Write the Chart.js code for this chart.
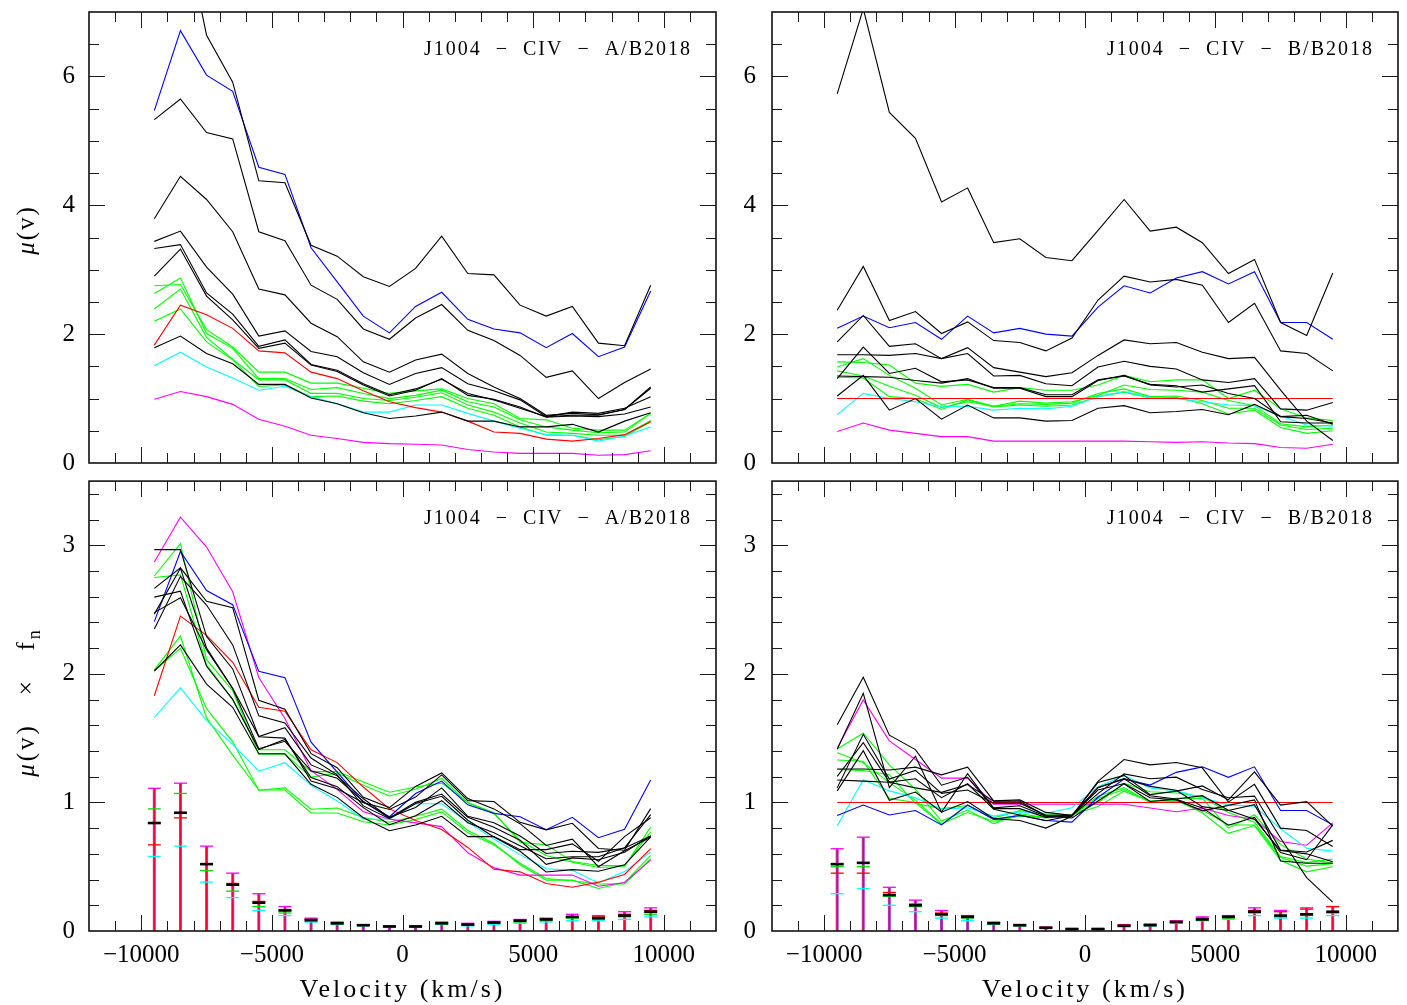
<!DOCTYPE html>
<html>
<head>
<meta charset="utf-8">
<title>J1004 CIV</title>
<script src="https://cdn.jsdelivr.net/npm/chart.js@4.4.1/dist/chart.umd.min.js"></script>
<style>
  html, body { margin: 0; padding: 0; background: #fff; }
  #wrap { position: relative; width: 1407px; height: 1005px; }
  canvas { position: absolute; }
</style>
</head>
<body>
<div id="wrap">
  <canvas id="tl" width="730" height="472" style="left:0;top:0"></canvas>
  <canvas id="tr" width="677" height="472" style="left:730px;top:0"></canvas>
  <canvas id="bl" width="730" height="533" style="left:0;top:472px"></canvas>
  <canvas id="br" width="677" height="533" style="left:730px;top:472px"></canvas>
</div>
<script>
// velocity bins (km/s)
const velocity = [-9500, -8500, -7500, -6500, -5500, -4500, -3500, -2500, -1500, -500,
                  500, 1500, 2500, 3500, 4500, 5500, 6500, 7500, 8500, 9500];
const velocityTicks = [-10000, -5000, 0, 5000, 10000];
const muTicks = [0, 2, 4, 6];
const scaledTicks = [0, 1, 2, 3];

// mu(v), image A over B2018
const aK1 = [8.6, 8.6, 6.64, 5.91, 4.38, 4.35, 3.38, 3.21, 2.89, 2.74, 3.02, 3.52, 2.94, 2.92, 2.45, 2.28, 2.43, 1.86, 1.82, 2.76];
const aK2 = [5.33, 5.65, 5.13, 5.03, 3.59, 3.45, 2.76, 2.54, 2.08, 1.92, 2.25, 2.46, 2.06, 1.90, 1.67, 1.33, 1.43, 1.00, 1.25, 1.46];
const aK3 = [3.79, 4.45, 4.09, 3.59, 2.70, 2.61, 2.17, 1.96, 1.57, 1.41, 1.60, 1.69, 1.39, 1.18, 1.00, 0.74, 0.77, 0.75, 0.83, 1.18];
const aK4 = [3.44, 3.60, 3.04, 2.62, 1.97, 2.05, 1.73, 1.65, 1.40, 1.22, 1.39, 1.48, 1.23, 1.12, 0.98, 0.72, 0.79, 0.77, 0.85, 1.03];
const aK5 = [3.33, 3.39, 2.64, 2.31, 1.81, 1.91, 1.53, 1.44, 1.23, 1.06, 1.15, 1.30, 1.08, 0.98, 0.85, 0.72, 0.74, 0.74, 0.83, 1.16];
const aK6 = [2.90, 3.32, 2.59, 2.22, 1.78, 1.86, 1.52, 1.42, 1.21, 1.04, 1.13, 1.31, 1.05, 0.99, 0.87, 0.71, 0.73, 0.72, 0.76, 0.87];
const aK7 = [1.79, 1.97, 1.70, 1.54, 1.22, 1.22, 1.01, 0.92, 0.78, 0.69, 0.73, 0.79, 0.65, 0.65, 0.56, 0.56, 0.60, 0.48, 0.65, 0.78];
const aBlue = [5.47, 6.71, 6.02, 5.77, 4.59, 4.48, 3.34, 2.81, 2.28, 2.02, 2.43, 2.65, 2.23, 2.08, 2.02, 1.79, 2.01, 1.65, 1.80, 2.67];
const aRed = [1.83, 2.45, 2.30, 2.09, 1.74, 1.71, 1.41, 1.31, 1.12, 0.95, 0.86, 0.79, 0.65, 0.48, 0.46, 0.37, 0.34, 0.38, 0.44, 0.64];
const aCyan = [1.51, 1.72, 1.49, 1.32, 1.13, 1.19, 1.03, 0.92, 0.79, 0.79, 0.90, 0.90, 0.77, 0.65, 0.54, 0.44, 0.43, 0.34, 0.42, 0.56];
const aMagenta = [0.99, 1.11, 1.03, 0.91, 0.68, 0.57, 0.43, 0.38, 0.32, 0.30, 0.29, 0.28, 0.21, 0.17, 0.15, 0.15, 0.15, 0.12, 0.13, 0.19];
const aG1 = [2.75, 2.77, 2.07, 1.80, 1.41, 1.41, 1.24, 1.24, 1.16, 1.08, 1.12, 1.15, 1.00, 0.92, 0.69, 0.67, 0.54, 0.51, 0.51, 0.77];
const aG2 = [2.63, 2.87, 2.01, 1.78, 1.31, 1.31, 1.14, 1.17, 1.08, 1.00, 1.05, 1.13, 0.95, 0.87, 0.67, 0.56, 0.51, 0.47, 0.48, 0.77];
const aG3 = [2.39, 2.70, 1.95, 1.61, 1.29, 1.29, 1.08, 1.08, 1.00, 0.97, 1.02, 1.09, 0.90, 0.79, 0.62, 0.48, 0.46, 0.43, 0.43, 0.66];
const aG4 = [2.20, 2.39, 1.88, 1.60, 1.19, 1.21, 1.03, 1.04, 0.96, 0.92, 0.97, 1.03, 0.85, 0.74, 0.56, 0.43, 0.43, 0.36, 0.41, 0.64];

// mu(v), image B over B2018
const bK1 = [5.73, 7.05, 5.44, 5.04, 4.05, 4.27, 3.42, 3.48, 3.19, 3.14, 3.61, 4.09, 3.60, 3.66, 3.42, 2.94, 3.16, 2.18, 1.98, 2.95];
const bK2 = [2.37, 3.05, 2.21, 2.35, 2.01, 2.19, 1.90, 1.87, 1.74, 1.94, 2.53, 2.90, 2.81, 2.85, 2.76, 2.18, 2.48, 1.74, 1.70, 1.43];
const bK3 = [1.88, 2.29, 1.81, 1.85, 1.62, 1.79, 1.48, 1.41, 1.34, 1.40, 1.67, 1.91, 1.85, 1.87, 1.72, 1.62, 1.64, 1.13, 0.65, 0.35];
const bK4 = [1.68, 1.68, 1.67, 1.70, 1.62, 1.70, 1.35, 1.36, 1.23, 1.20, 1.49, 1.58, 1.50, 1.46, 1.29, 1.25, 1.31, 0.84, 0.82, 0.94];
const bK5 = [1.31, 1.80, 1.39, 1.47, 1.26, 1.29, 1.17, 1.17, 1.06, 1.06, 1.29, 1.35, 1.22, 1.20, 1.10, 1.15, 1.20, 0.64, 0.62, 0.62];
const bK6 = [1.35, 1.34, 1.33, 1.28, 1.24, 1.31, 1.16, 1.16, 1.03, 1.03, 1.28, 1.36, 1.21, 1.18, 1.21, 1.08, 1.00, 0.72, 0.69, 0.62];
const bK7 = [1.04, 1.36, 0.82, 1.00, 0.68, 0.90, 0.70, 0.70, 0.65, 0.66, 0.85, 0.89, 0.78, 0.80, 0.83, 0.75, 0.91, 0.72, 0.74, 0.60];
const bBlue = [2.09, 2.28, 2.10, 2.18, 1.92, 2.28, 2.02, 2.09, 2.00, 1.97, 2.42, 2.75, 2.64, 2.87, 2.97, 2.78, 2.97, 2.18, 2.18, 1.92];
const bRed = [1, 1, 1, 1, 1, 1, 1, 1, 1, 1, 1, 1, 1, 1, 1, 1, 1, 1, 1, 1];
const bCyan = [0.75, 1.08, 1.00, 0.95, 0.87, 0.88, 0.82, 0.85, 0.84, 0.88, 1.03, 1.11, 1.02, 1.00, 0.95, 0.90, 0.89, 0.73, 0.59, 0.57];
const bMagenta = [0.49, 0.62, 0.51, 0.46, 0.41, 0.41, 0.34, 0.34, 0.34, 0.34, 0.34, 0.34, 0.33, 0.32, 0.33, 0.31, 0.30, 0.24, 0.23, 0.29];
const bG1 = [1.57, 1.56, 1.52, 1.24, 1.19, 1.22, 1.10, 1.17, 1.13, 1.13, 1.21, 1.36, 1.26, 1.29, 1.29, 1.00, 1.13, 0.84, 0.70, 0.66];
const bG2 = [1.49, 1.62, 1.36, 1.16, 0.90, 0.99, 0.88, 0.96, 0.93, 0.95, 1.05, 1.21, 1.14, 1.13, 1.10, 0.97, 0.89, 0.61, 0.56, 0.59];
const bG3 = [1.43, 1.35, 1.19, 1.05, 0.86, 0.95, 0.88, 0.92, 0.91, 0.93, 1.08, 1.15, 1.03, 1.04, 0.97, 0.85, 0.85, 0.59, 0.52, 0.54];
const bG4 = [1.33, 1.32, 1.03, 1.00, 0.83, 0.98, 0.87, 0.90, 0.88, 0.90, 1.03, 1.10, 1.01, 1.02, 0.92, 0.76, 0.82, 0.55, 0.46, 0.50];

// normalisation factors f_n, same order as the series lists below
const fnA = [0.345, 0.5, 0.62, 0.72, 0.78, 0.85, 1.13, 0.44, 1.0, 1.1, 2.9, 1.0, 1.05, 0.85, 0.92];
const fnB = [0.28, 0.46, 0.64, 0.75, 0.85, 0.87, 1.36, 0.43, 1.0, 1.09, 2.9, 0.8, 0.95, 0.97, 1.0];

// error bars on mu(v) x f_n: top cap, black, green, red, bottom cap
const errHiA = [1.11, 1.15, 0.66, 0.45, 0.29, 0.19, 0.10, 0.07, 0.05, 0.04, 0.04, 0.07, 0.06, 0.075, 0.09, 0.10, 0.13, 0.12, 0.15, 0.18];
const errMidA = [0.84, 0.92, 0.52, 0.36, 0.22, 0.16, 0.085, 0.06, 0.045, 0.035, 0.035, 0.06, 0.05, 0.065, 0.08, 0.09, 0.11, 0.10, 0.12, 0.15];
const errGreenA = [0.95, 1.07, 0.47, 0.31, 0.19, 0.14, 0.075, 0.055, 0.042, 0.032, 0.032, 0.055, 0.045, 0.06, 0.07, 0.08, 0.10, 0.09, 0.11, 0.13];
const errRedA = [0.67, 0.88, 0.52, 0.37, 0.23, 0.16, 0.09, 0.065, 0.048, 0.038, 0.038, 0.062, 0.052, 0.068, 0.082, 0.092, 0.105, 0.11, 0.13, 0.16];
const errLoA = [0.58, 0.66, 0.38, 0.26, 0.16, 0.12, 0.07, 0.05, 0.04, 0.03, 0.03, 0.05, 0.04, 0.05, 0.06, 0.07, 0.08, 0.08, 0.09, 0.11];

const errHiB = [0.64, 0.73, 0.34, 0.24, 0.16, 0.12, 0.07, 0.05, 0.03, 0.02, 0.02, 0.05, 0.055, 0.08, 0.11, 0.12, 0.18, 0.16, 0.18, 0.19];
const errMidB = [0.52, 0.53, 0.28, 0.20, 0.13, 0.11, 0.06, 0.045, 0.025, 0.015, 0.015, 0.04, 0.045, 0.07, 0.09, 0.11, 0.15, 0.12, 0.13, 0.15];
const errGreenB = [0.50, 0.50, 0.27, 0.19, 0.12, 0.10, 0.055, 0.04, 0.022, 0.012, 0.012, 0.038, 0.043, 0.065, 0.085, 0.10, 0.14, 0.11, 0.12, 0.14];
const errRedB = [0.45, 0.45, 0.30, 0.21, 0.14, 0.115, 0.065, 0.05, 0.028, 0.018, 0.018, 0.045, 0.05, 0.075, 0.10, 0.115, 0.16, 0.15, 0.17, 0.19];
const errLoB = [0.29, 0.33, 0.20, 0.15, 0.10, 0.08, 0.05, 0.04, 0.02, 0.01, 0.01, 0.035, 0.04, 0.06, 0.08, 0.09, 0.12, 0.10, 0.10, 0.12];

const seriesA = [aK1, aK2, aK3, aK4, aK5, aK6, aK7, aBlue, aRed, aCyan, aMagenta, aG1, aG2, aG3, aG4];
const seriesB = [bK1, bK2, bK3, bK4, bK5, bK6, bK7, bBlue, bRed, bCyan, bMagenta, bG1, bG2, bG3, bG4];
const seriesColors = ['#000', '#000', '#000', '#000', '#000', '#000', '#000',
                      '#0000ff', '#ff0000', '#00ffff', '#ff00ff', '#00ff00', '#00ff00', '#00ff00', '#00ff00'];

const FONT = '"Liberation Serif", "DejaVu Serif", serif';

const fmtVel = v => (v < 0 ? '\u2212' + Math.abs(v) : String(v));

// draws a run of text pieces (italic / subscript) as one line
function drawRich(ctx, parts, x, y, align, size, spacing) {
  const fontOf = p => (p.i ? 'italic ' : '') + (p.s ? size * 0.72 : size) + 'px ' + FONT;
  ctx.letterSpacing = spacing + 'px';
  let total = 0;
  parts.forEach(p => { ctx.font = fontOf(p); p.w = ctx.measureText(p.t).width; total += p.w; });
  let cx = align === 'center' ? x - total / 2 : align === 'right' ? x - total : x;
  ctx.textAlign = 'left';
  parts.forEach(p => {
    ctx.font = fontOf(p);
    ctx.fillText(p.t, cx, y + (p.s ? size * 0.32 : 0));
    cx += p.w;
  });
  ctx.letterSpacing = '0px';
}

// box with inward ticks on all four sides, plus panel texts
const frame = {
  id: 'frame',
  afterDraw(chart, args, o) {
    const { ctx, chartArea: a, scales: { x, y } } = chart;
    ctx.save();
    ctx.strokeStyle = '#1a1a1a';
    ctx.lineWidth = 1;
    ctx.beginPath();
    const nx = Math.round((x.max - x.min) / o.xMinor);
    for (let k = 1; k < nx; k++) {
      const v = x.min + k * o.xMinor;
      const px = Math.round(x.getPixelForValue(v)) + 0.5;
      const len = Math.abs(v % o.xMajor) < 1e-6 ? 16 : 10;
      ctx.moveTo(px, a.bottom); ctx.lineTo(px, a.bottom - len);
      ctx.moveTo(px, a.top); ctx.lineTo(px, a.top + len);
    }
    const ny = Math.round((y.max - y.min) / o.yMinor);
    for (let k = 1; k < ny; k++) {
      const v = y.min + k * o.yMinor;
      const py = Math.round(y.getPixelForValue(v)) + 0.5;
      const r = v / o.yMajor;
      const len = Math.abs(r - Math.round(r)) < 1e-6 ? 16 : 10;
      ctx.moveTo(a.left, py); ctx.lineTo(a.left + len, py);
      ctx.moveTo(a.right, py); ctx.lineTo(a.right - len, py);
    }
    ctx.stroke();
    ctx.lineWidth = 1.6;
    ctx.strokeStyle = '#111';
    ctx.strokeRect(a.left, a.top, a.right - a.left, a.bottom - a.top);

    ctx.fillStyle = '#000';
    ctx.textBaseline = 'middle';
    drawRich(ctx, [{ t: o.title }], a.right - 24, a.top + 38, 'right', 20, 2);

    if (o.yTitle) {
      ctx.save();
      ctx.translate(o.yTitleX, o.yTitleY);
      ctx.rotate(-Math.PI / 2);
      drawRich(ctx, o.yTitle, 0, 0, 'center', 25, o.yTitleSpacing);
      ctx.restore();
    }
    if (o.xTitle) {
      drawRich(ctx, [{ t: o.xTitle }], x.getPixelForValue(0), o.xTitleY, 'center', 26, 3);
    }
    ctx.restore();
  }
};

function errorSets(hi, mid, green, red, lo) {
  const stem = [];
  velocity.forEach((v, i) => { stem.push({ x: v, y: 0 }, { x: v, y: hi[i] }, { x: v, y: null }); });
  const caps = (vals, color, w) => ({
    data: velocity.map((v, i) => ({ x: v, y: vals[i] })),
    showLine: false, pointStyle: 'line', pointRadius: 6.5,
    pointBorderWidth: w, pointBorderColor: color, pointBackgroundColor: color
  });
  return [
    caps(mid, '#000', 2.6), caps(green, '#00dd00', 1.3), caps(red, '#ff0000', 1.3),
    caps(hi, '#ff00ff', 1.3), caps(lo, '#00ffff', 1.3),
    { data: stem, showLine: true, borderColor: '#ff0030', borderWidth: 1.3, pointRadius: 0, spanGaps: false },
    { data: stem, showLine: true, borderColor: '#a040d0', borderWidth: 3, pointRadius: 0, spanGaps: false }
  ];
}

function panel(id, cfg) {
  const lines = cfg.series.map((vals, s) => ({
    data: velocity.map((v, i) => ({ x: v, y: cfg.fn ? vals[i] * cfg.fn[s] : vals[i] })),
    showLine: true, borderColor: seriesColors[s], borderWidth: 1.1, pointRadius: 0
  }));
  const datasets = cfg.err ? lines.concat(errorSets(...cfg.err)) : lines;

  new Chart(document.getElementById(id), {
    type: 'scatter',
    data: { datasets },
    options: {
      responsive: false,
      animation: false,
      events: [],
      layout: { padding: { top: cfg.padTop, right: cfg.padRight, left: 0, bottom: 0 } },
      plugins: {
        legend: { display: false },
        tooltip: { enabled: false },
        frame: cfg.frame
      },
      scales: {
        x: {
          type: 'linear', min: -12000, max: 12000,
          grid: { display: false, drawTicks: false },
          border: { display: false },
          afterBuildTicks: s => { s.ticks = velocityTicks.map(v => ({ value: v })); },
          afterFit: s => { s.height = cfg.xHeight; s.paddingLeft = 0; s.paddingRight = 0; },
          ticks: {
            display: cfg.xLabels, color: '#000', padding: 9, maxRotation: 0, autoSkip: false,
            font: { family: FONT, size: 25 }, callback: v => fmtVel(v)
          }
        },
        y: {
          type: 'linear', min: 0, max: cfg.yMax,
          grid: { display: false, drawTicks: false },
          border: { display: false },
          afterBuildTicks: s => { s.ticks = cfg.yTicks.map(v => ({ value: v })); },
          afterFit: s => { s.width = cfg.yWidth; s.paddingTop = 0; s.paddingBottom = 0; },
          ticks: {
            color: '#000', padding: cfg.yPad, autoSkip: false,
            font: { family: FONT, size: 25 }, callback: v => String(v)
          }
        }
      }
    },
    plugins: [frame]
  });
}

const muTitle = [{ t: '\u03bc', i: true }, { t: '(v)' }];
const scaledTitle = [{ t: '\u03bc', i: true }, { t: '(v)   \u00d7   f' }, { t: 'n', s: true }];

panel('tl', {
  series: seriesA, yMax: 7, yTicks: muTicks, padTop: 12, padRight: 14, yWidth: 89, yPad: 14,
  xHeight: 9, xLabels: false,
  frame: { xMinor: 1000, xMajor: 5000, yMinor: 0.5, yMajor: 2, title: 'J1004  \u2212  CIV  \u2212  A/B2018',
           yTitle: muTitle, yTitleX: 27, yTitleY: 230, yTitleSpacing: 2 }
});
panel('tr', {
  series: seriesB, yMax: 7, yTicks: muTicks, padTop: 12, padRight: 9, yWidth: 42, yPad: 16,
  xHeight: 9, xLabels: false,
  frame: { xMinor: 1000, xMajor: 5000, yMinor: 0.5, yMajor: 2, title: 'J1004  \u2212  CIV  \u2212  B/B2018' }
});
panel('bl', {
  series: seriesA, fn: fnA, err: [errHiA, errMidA, errGreenA, errRedA, errLoA],
  yMax: 3.5, yTicks: scaledTicks, padTop: 8, padRight: 14, yWidth: 89, yPad: 14,
  xHeight: 74, xLabels: true,
  frame: { xMinor: 1000, xMajor: 5000, yMinor: 0.2, yMajor: 1, title: 'J1004  \u2212  CIV  \u2212  A/B2018',
           yTitle: scaledTitle, yTitleX: 27, yTitleY: 230, yTitleSpacing: 3,
           xTitle: 'Velocity (km/s)', xTitleY: 518 }
});
panel('br', {
  series: seriesB, fn: fnB, err: [errHiB, errMidB, errGreenB, errRedB, errLoB],
  yMax: 3.5, yTicks: scaledTicks, padTop: 8, padRight: 9, yWidth: 42, yPad: 16,
  xHeight: 74, xLabels: true,
  frame: { xMinor: 1000, xMajor: 5000, yMinor: 0.2, yMajor: 1, title: 'J1004  \u2212  CIV  \u2212  B/B2018',
           xTitle: 'Velocity (km/s)', xTitleY: 518 }
});
</script>
</body>
</html>
